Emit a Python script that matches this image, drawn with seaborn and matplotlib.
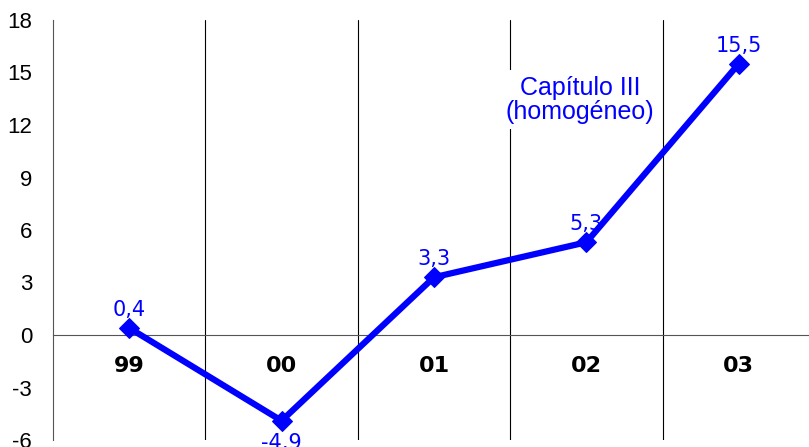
import numpy as np
import pandas as pd
import matplotlib
matplotlib.use("Agg")
import matplotlib.pyplot as plt
import seaborn as sns

# data
years = ['99', '00', '01', '02', '03']
values = [0.4, -4.9, 3.3, 5.3, 15.5]
value_labels = ['0,4', '-4,9', '3,3', '5,3', '15,5']
yticks = [-6, -3, 0, 3, 6, 9, 12, 15, 18]
note = 'Capítulo III\n(homogéneo)'

df = pd.DataFrame({'pos': np.arange(len(years)), 'value': values})

sns.set_style('white')
plt.rcParams['font.family'] = ['Liberation Sans', 'DejaVu Sans']

fig = plt.figure(figsize=(8.09, 4.47), dpi=100)
ax = fig.add_axes([53 / 809, 7 / 447, 762 / 809, 420 / 447])

# vertical separators between years
for b in np.arange(0.5, len(years) - 0.5, 1):
    ax.axvline(b, color='black', lw=0.8, zorder=1)

sns.lineplot(data=df, x='pos', y='value', ax=ax, color='#0000ff', lw=4.5,
             marker='D', markersize=10, markeredgecolor='#0000ff', zorder=4)

ax.set_xlim(-0.5, 4.5)
ax.set_ylim(-6, 18)
ax.set_yticks(yticks)
ax.set_yticklabels([str(t) for t in yticks], fontsize=16, color='black')
ax.tick_params(axis='y', direction='out', length=6, width=1, pad=9, color='#555555')

# x axis sits on zero
ax.spines['bottom'].set_position(('data', 0))
ax.spines['bottom'].set_color('#555555')
ax.spines['left'].set_color('#555555')
ax.spines['top'].set_visible(False)
ax.spines['right'].set_visible(False)
ax.set_xticks(df['pos'])
ax.set_xticklabels(years, fontsize=16, fontweight='bold', family='DejaVu Sans',
                   color='black')
ax.tick_params(axis='x', length=0, pad=15)
ax.set_xlabel('')
ax.set_ylabel('')

# data labels
for x, v, lab in zip(df['pos'], values, value_labels):
    off = -16 if v < 0 else 13
    ax.annotate(lab, (x, v), xytext=(0, off), textcoords='offset points',
                ha='center', va='center', color='#0000ff', fontsize=15,
                family='DejaVu Sans')

ax.text(2.96, 13.45, note, ha='center', va='center', color='#0000ff',
        fontsize=18, linespacing=1.0, zorder=3,
        bbox=dict(facecolor='white', edgecolor='none', pad=4))

fig.savefig('out.png', dpi=100)
